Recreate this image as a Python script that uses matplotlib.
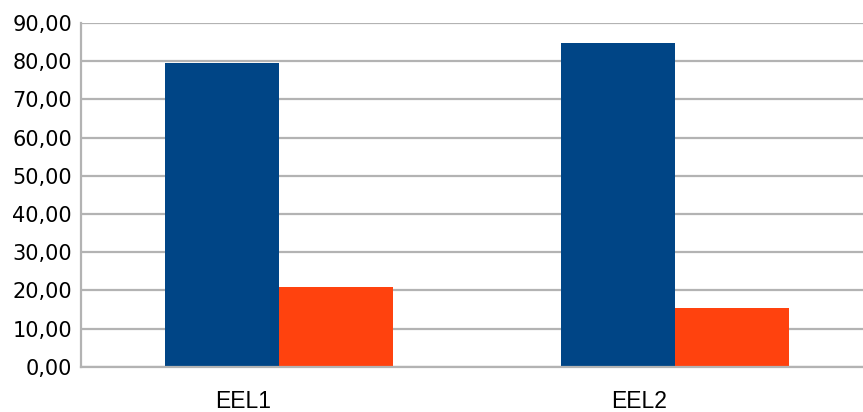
import numpy as np
import matplotlib
matplotlib.use("Agg")
import matplotlib.pyplot as plt
from matplotlib.transforms import ScaledTranslation

categories = ["EEL1", "EEL2"]
series_a = [79.6, 84.8]
series_b = [20.9, 15.4]
yticks = [0, 10, 20, 30, 40, 50, 60, 70, 80, 90]

fig = plt.figure(figsize=(8.63, 4.12), dpi=100)
ax = fig.add_axes([81/863, 45.3/412, 792/863, 343.7/412])

x = np.arange(len(categories))
w = 0.288
ax.bar(x - w/2, series_a, w, color="#004586", zorder=2)
ax.bar(x + w/2, series_b, w, color="#ff420e", zorder=2)

ax.set_xlim(-0.5, 1.5)
ax.set_ylim(0, 90)
ax.set_yticks(yticks)
ax.set_yticklabels([f"{v:.2f}".replace(".", ",") for v in yticks],
                   family="DejaVu Sans", fontsize=15)
ax.set_xticks(x)
ax.set_xticklabels(categories, family="Liberation Sans", fontsize=16.5)
ax.yaxis.grid(True, color="#b3b3b3", lw=1.6)
ax.set_axisbelow(True)
ax.tick_params(axis="y", length=0, pad=6.5)
ax.tick_params(axis="x", length=0, pad=17)

for s in ["top", "right"]:
    ax.spines[s].set_visible(False)
for s in ["left", "bottom"]:
    ax.spines[s].set_color("#b3b3b3")
    ax.spines[s].set_linewidth(1.6)

shift = ScaledTranslation(-0.36, 0, fig.dpi_scale_trans)
for lab in ax.get_xticklabels():
    lab.set_transform(lab.get_transform() + shift)

fig.savefig("out.png", dpi=100)
